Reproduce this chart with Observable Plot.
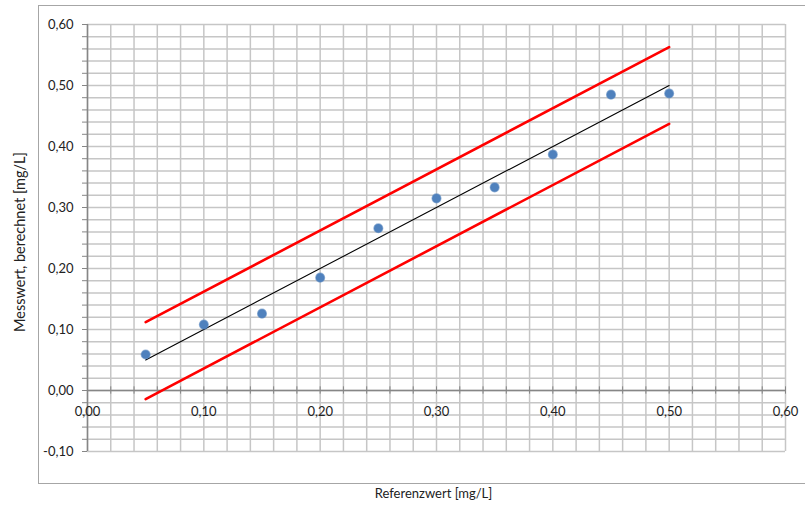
<!DOCTYPE html>
<html><head><meta charset="utf-8">
<script src="https://cdn.jsdelivr.net/npm/d3@7"></script>
<script src="https://cdn.jsdelivr.net/npm/@observablehq/plot@0.6"></script>
<style>
body{margin:0;background:#fff;}
#wrap{position:relative;width:805px;height:509px;overflow:hidden;font-family:Lato,"Open Sans",sans-serif;}
#border{position:absolute;left:38px;top:5px;width:800px;height:477px;border:1.5px solid #a6a6a6;}
#chart{position:absolute;left:0;top:0;}
</style></head>
<body><div id="wrap"><div id="border"></div><div id="chart"></div></div>
<script>
const refX = [0.05,0.10,0.15,0.20,0.25,0.30,0.35,0.40,0.45,0.50];
const measY = [0.059,0.108,0.126,0.185,0.266,0.315,0.333,0.387,0.485,0.487];
const idealX = [0.05,0.50];
const idealY = [0.05,0.50];
const upperY = [0.112,0.563];
const lowerY = [-0.014,0.437];
const xTicks = [0,0.1,0.2,0.3,0.4,0.5,0.6];
const yTicks = [-0.1,0,0.1,0.2,0.3,0.4,0.5,0.6];
const xMinor = d3.range(0,31).map(i=>i*0.02);
const yMinor = d3.range(0,36).map(i=>-0.1+i*0.02);
const xLabel = "Referenzwert [mg/L]";
const yLabel = "Messwert, berechnet [mg/L]";

const fmt = v => d3.format(".2f")(v).replace(".",",").replace("−","-");
const pts = refX.map((x,i)=>({x, y: measY[i]}));
const ideal = idealX.map((x,i)=>({x, y: idealY[i]}));
const upper = idealX.map((x,i)=>({x, y: upperY[i]}));
const lower = idealX.map((x,i)=>({x, y: lowerY[i]}));
const grid = "#c6c6c6", axis = "#868686";

const chart = Plot.plot({
  width: 805, height: 509,
  marginLeft: 87, marginRight: 20, marginTop: 24, marginBottom: 58,
  x: {domain:[0,0.6], axis: null},
  y: {domain:[-0.1,0.6], axis: null},
  style: {fontFamily: "Lato, 'Open Sans', sans-serif", fontSize: "13px", color: "#222"},
  marks: [
    Plot.ruleX(xMinor, {x: d=>d, y1: -0.1, y2: 0.6, stroke: grid, strokeWidth: 1.5}),
    Plot.ruleY(yMinor, {y: d=>d, x1: 0, x2: 0.6, stroke: grid, strokeWidth: 1.5}),
    Plot.ruleX([0], {y1: -0.1, y2: 0.6, stroke: axis, strokeWidth: 1.5}),
    Plot.ruleY([0], {x1: 0, x2: 0.6, stroke: axis, strokeWidth: 1.5}),
    Plot.axisY({ticks: yMinor, tickSize: 5, tickFormat: () => "", stroke: axis, label: null}),
    Plot.ruleX(xMinor, {x: d=>d, y1: -0.006, y2: 0.006, stroke: axis, strokeWidth: 1}),
    Plot.text(yTicks, {x: 0, y: d=>d, text: d=>fmt(d), textAnchor: "end", dx: -14, fill: "#222"}),
    Plot.text(xTicks, {x: d=>d, y: 0, text: d=>fmt(d), dy: 21, fill: "#222"}),
    Plot.line(upper, {x: "x", y: "y", stroke: "#ff0000", strokeWidth: 2.6}),
    Plot.line(lower, {x: "x", y: "y", stroke: "#ff0000", strokeWidth: 2.6}),
    Plot.line(ideal, {x: "x", y: "y", stroke: "#000", strokeWidth: 1.1}),
    Plot.dot(pts, {x: "x", y: "y", r: 4.3, fill: "#4f81bd", stroke: "#4f81bd", strokeOpacity: 0.6}),
    Plot.text([yLabel], {frameAnchor: "left", textAnchor: "middle", rotate: -90, dx: -67, dy: 4, fontSize: 14.5, fill: "#222"}),
    Plot.text([xLabel], {frameAnchor: "bottom", dy: 46, dx: -3, fill: "#222"})
  ]
});
document.getElementById("chart").appendChild(chart);
</script></body></html>
